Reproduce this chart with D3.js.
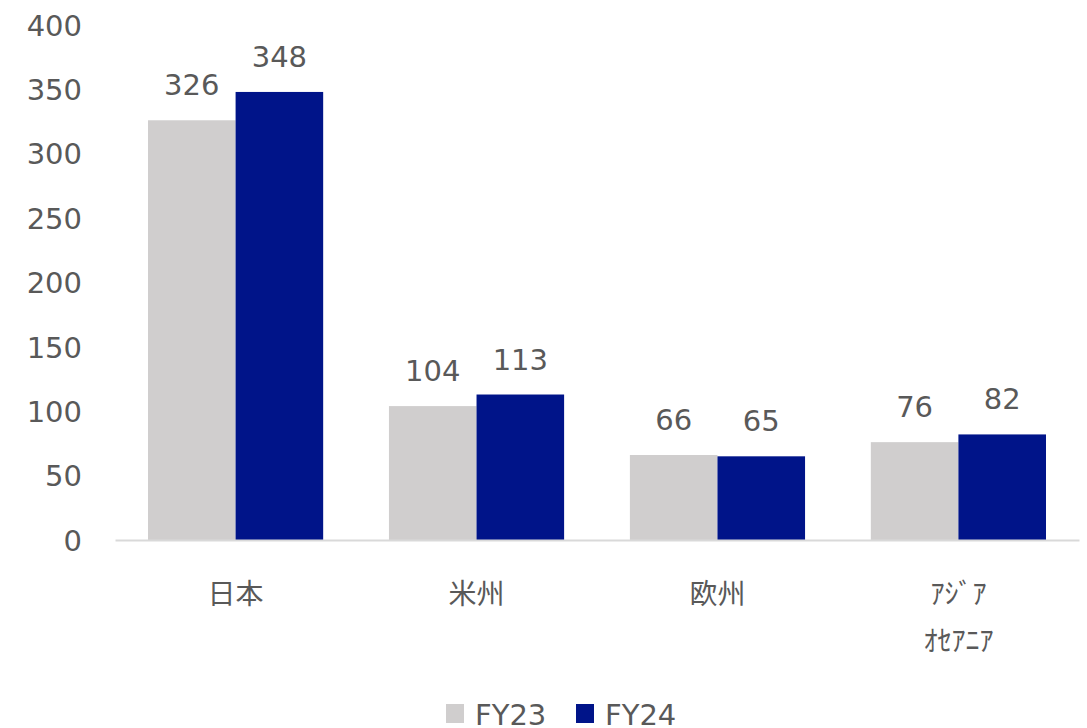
<!DOCTYPE html>
<html><head><meta charset="utf-8">
<script src="https://cdn.jsdelivr.net/npm/d3@7"></script>
<style>body{margin:0;background:#fff}svg{display:block}</style>
</head><body><svg id="c" width="1087" height="728"></svg>
<script>
const categories = ["日本", "米州", "欧州", "ｱｼﾞｱ\nｵｾｱﾆｱ"];
const seriesNames = ["FY23", "FY24"];
const fy23 = [326, 104, 66, 76];
const fy24 = [348, 113, 65, 82];
const yTicks = [0, 50, 100, 150, 200, 250, 300, 350, 400];
const colors = ["#d0cece", "#001489"];

const svg = d3.select("#c");
const textColor = "#595959";
const font = "'DejaVu Sans', Verdana, sans-serif";
const x = d3.scaleBand().domain(categories).range([115, 1079]).paddingInner(0.273).paddingOuter(0.137);
const x1 = d3.scaleBand().domain(seriesNames).range([0, x.bandwidth()]);
const y = d3.scaleLinear().domain([0, 400]).range([540, 25]);

// y axis labels
const yAxis = svg.append("g").attr("transform", "translate(82,0)")
  .call(d3.axisLeft(y).tickValues(yTicks).tickSize(0).tickPadding(0));
yAxis.select(".domain").remove();
yAxis.selectAll("text").attr("font-family", font).attr("font-size", 29).attr("fill", textColor).attr("dy", "0.35em");

const series = [fy23, fy24];
categories.forEach((c, i) => {
  seriesNames.forEach((s, j) => {
    const v = series[j][i];
    svg.append("rect").attr("x", x(c) + x1(s)).attr("y", y(v))
      .attr("width", x1.bandwidth()).attr("height", y(0) - y(v)).attr("fill", colors[j]);
    svg.append("text").attr("x", x(c) + x1(s) + x1.bandwidth() / 2).attr("y", y(v) - 25)
      .attr("text-anchor", "middle").attr("font-family", font).attr("font-size", 29)
      .attr("fill", textColor).text(v);
  });
});

// x axis line
const xAxis = svg.append("g").attr("transform", "translate(0,540)")
  .call(d3.axisBottom(x).tickSize(0).tickFormat(""));
xAxis.select(".domain").attr("stroke", "#d9d9d9").attr("stroke-width", 2);

categories.forEach(c => {
  const lines = c.split("\n");
  const t = svg.append("text").attr("x", x(c) + x.bandwidth() / 2).attr("text-anchor", "middle")
    .attr("font-family", "'Noto Sans CJK JP', sans-serif").attr("font-size", 28).attr("fill", textColor);
  lines.forEach((l, k) => t.append("tspan").attr("x", x(c) + x.bandwidth() / 2).attr("y", 604 + k * 47).text(l));
});

// legend
const legX = [446, 576];
seriesNames.forEach((s, j) => {
  svg.append("rect").attr("x", legX[j]).attr("y", 704).attr("width", 18).attr("height", 19).attr("fill", colors[j]);
  svg.append("text").attr("x", legX[j] + 29).attr("y", 725).attr("font-family", font).attr("font-size", 29)
    .attr("fill", textColor).text(s);
});
</script></body></html>
